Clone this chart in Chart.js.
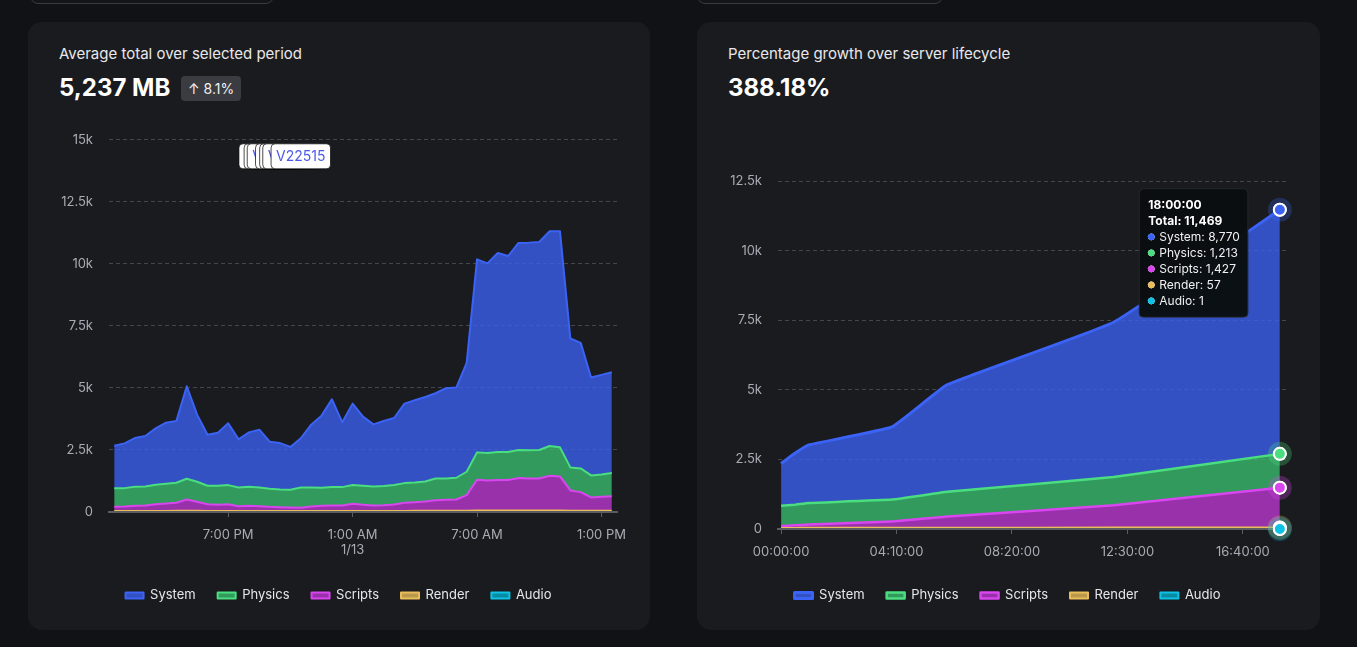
<!DOCTYPE html>
<html>
<head>
<meta charset="utf-8">
<script src="https://cdn.jsdelivr.net/npm/chart.js@4.4.1/dist/chart.umd.min.js"></script>
<style>
  html, body { margin: 0; padding: 0; }
  body { background: #111215; width: 1357px; height: 647px; overflow: hidden; position: relative;
         font-family: Inter, "Noto Sans", sans-serif; }
  .sel { position: absolute; top: -30px; height: 32px; border: 1px solid #3a3b40; border-radius: 8px; background: #141518; }
  .card { position: absolute; top: 22px; height: 608px; background: #1a1b1e; border-radius: 14px; }
  .title { position: absolute; top: 45px; font-size: 15px; line-height: 18px; color: #e8e8ec; white-space: nowrap; }
  .big { position: absolute; top: 73px; font-size: 24px; line-height: 29px; font-weight: 700; color: #fff; white-space: nowrap; }
  .badge { position: absolute; top: 76px; left: 181px; height: 25px; line-height: 25px; padding: 0 7px; box-sizing: border-box;
           background: #3b3c41; border-radius: 4px; color: #f0f0f2; font-size: 14px; white-space: nowrap; }
  canvas.chart { position: absolute; top: 116px; }
</style>
</head>
<body>
<div class="sel" style="left:30px;width:242px"></div>
<div class="sel" style="left:697px;width:244px"></div>

<div class="card" style="left:28px;width:622px"></div>
<div class="card" style="left:697px;width:623px"></div>

<div class="title" style="left:59px">Average total over selected period</div>
<div class="big" style="left:59px">5,237 MB</div>
<div class="badge">↑ 8.1%</div>

<div class="title" style="left:728px">Percentage growth over server lifecycle</div>
<div class="big" style="left:728px">388.18%</div>

<canvas id="leftChart" class="chart" width="574" height="496" style="left:60px"></canvas>
<canvas id="rightChart" class="chart" width="574" height="496" style="left:729px"></canvas>

<script>
// ---- left chart: last 24h, one sample every 30 min
const timeLabels = [
  '1:30 PM', '2:00 PM', '2:30 PM', '3:00 PM', '3:30 PM', '4:00 PM', '4:30 PM', '5:00 PM', '5:30 PM', '6:00 PM',
  '6:30 PM', '7:00 PM', '7:30 PM', '8:00 PM', '8:30 PM', '9:00 PM', '9:30 PM', '10:00 PM', '10:30 PM', '11:00 PM',
  '11:30 PM', '12:00 AM', '12:30 AM', '1:00 AM', '1:30 AM', '2:00 AM', '2:30 AM', '3:00 AM', '3:30 AM', '4:00 AM',
  '4:30 AM', '5:00 AM', '5:30 AM', '6:00 AM', '6:30 AM', '7:00 AM', '7:30 AM', '8:00 AM', '8:30 AM', '9:00 AM',
  '9:30 AM', '10:00 AM', '10:30 AM', '11:00 AM', '11:30 AM', '12:00 PM', '12:30 PM', '1:00 PM', '1:30 PM'
];
const leftSystem = [
  1711, 1804, 1965, 2032, 2275, 2464, 2490, 3729, 2706, 2059,
  2140, 2490, 1939, 2194, 2329, 1899, 1869, 1723, 1979, 2531,
  2908, 3540, 2611, 3284, 2786, 2503, 2625, 2705, 3204, 3311,
  3405, 3432, 3634, 3634, 4388, 7779, 7644, 8022, 7901, 8345,
  8372, 8386, 8654, 8708, 5195, 5061, 3943, 4011, 4065
];
const leftPhysics = [
  754, 740, 767, 768, 781, 794, 808, 834, 808, 741,
  768, 768, 754, 767, 754, 727, 714, 714, 821, 767,
  726, 741, 741, 754, 768, 768, 767, 781, 794, 794,
  808, 875, 862, 875, 942, 1104, 1104, 1130, 1130, 1131,
  1131, 1144, 1198, 1171, 929, 955, 889, 902, 929
];
const leftScripts = [
  165, 179, 205, 218, 271, 298, 324, 456, 364, 271,
  245, 271, 192, 206, 192, 166, 153, 140, 127, 180,
  206, 219, 219, 286, 245, 219, 233, 259, 325, 351,
  378, 431, 444, 457, 629, 1240, 1214, 1227, 1227, 1306,
  1293, 1293, 1400, 1373, 814, 748, 535, 562, 588
];
const leftRender = [
  42, 42, 43, 43, 44, 44, 45, 48, 45, 44,
  43, 44, 42, 42, 42, 41, 41, 40, 40, 41,
  42, 42, 42, 43, 43, 42, 42, 43, 44, 45,
  45, 46, 46, 47, 50, 58, 57, 58, 58, 59,
  59, 59, 60, 60, 53, 52, 49, 49, 50
];
const leftAudio = [
  1, 1, 1, 1, 1, 1, 1, 1, 1, 1,
  1, 1, 1, 1, 1, 1, 1, 1, 1, 1,
  1, 1, 1, 1, 1, 1, 1, 1, 1, 1,
  1, 1, 1, 1, 1, 1, 1, 1, 1, 1,
  1, 1, 1, 1, 1, 1, 1, 1, 1
];
const leftTickTimes = ['7:00 PM', '1:00 AM', '7:00 AM', '1:00 PM'];
const leftTickDates = { '1:00 AM': '1/13' };

// version markers (position along the series, in samples)
const versionAt = [14.9, 15.4, 15.7, 16.5, 16.9, 17.2, 18.0];
const versionNames = ['V22515', 'V22515', 'V22515', 'V22515', 'V22515', 'V22515', 'V22515'];

// ---- right chart: server lifecycle, x in seconds since start
const rightTimes   = [0, 1800, 3600, 14400, 21600, 43200, 64800];
const rightSystem  = [1512, 1845, 2086, 2609, 3847, 5555, 8770.4];
const rightPhysics = [728, 741, 777, 787, 885, 1019, 1213.3];
const rightScripts = [70, 93, 117, 226, 404, 801, 1427.2];
const rightRender  = [38, 39, 40, 42, 46, 50, 57.3];
const rightAudio   = [1, 1, 1, 1, 1, 1, 1];
const rightTicks   = [0, 15000, 30000, 45000, 60000];

const seriesNames = ['System', 'Physics', 'Scripts', 'Render', 'Audio'];
const lineColors = ['#3b63f6', '#4ade80', '#d946ef', '#e9bd5a', '#0cc3e6'];
const fillColors = ['rgba(59,99,246,0.76)', 'rgba(58,190,110,0.78)', 'rgba(190,55,210,0.78)',
                    'rgba(233,189,90,0.78)', 'rgba(8,170,200,0.78)'];

Chart.defaults.font.family = 'Inter, "Noto Sans", sans-serif';
Chart.defaults.color = '#a7acb4';

const gridGrey = '#45464b';
const axisGrey = '#5b5c61';

function kLabel(v) {
  return v === 0 ? '0' : (v / 1000) + 'k';
}
function hms(sec) {
  const h = Math.floor(sec / 3600), m = Math.floor((sec % 3600) / 60), s = Math.round(sec % 60);
  return [h, m, s].map(n => String(n).padStart(2, '0')).join(':');
}
function fmt(n) {
  return Math.round(n).toLocaleString('en-US');
}

function buildDatasets(valueSets, widths, tension) {
  return valueSets.map((vals, i) => ({
    label: seriesNames[i],
    data: vals,
    borderColor: lineColors[i],
    backgroundColor: fillColors[i],
    borderWidth: widths[i],
    fill: i < 4 ? i + 1 : 'origin',   // fill down to the series below in the stack
    order: 4 - i,                      // System sits on top of the stack
    tension: tension,
    clip: false,
    pointRadius: 0,
    pointHoverRadius: 6,
    pointHoverBorderWidth: 2,
    pointHoverBorderColor: '#ffffff',
    pointHoverBackgroundColor: lineColors[i],
    borderJoinStyle: 'round'
  }));
}

const legendOpts = {
  position: 'bottom',
  labels: {
    boxWidth: 18,
    boxHeight: 6,
    padding: 22,
    color: '#e5e7eb',
    font: { size: 13 },
    sort: (a, b) => a.datasetIndex - b.datasetIndex
  }
};

function yAxis(max) {
  return {
    stacked: true,
    min: 0,
    max: max,
    afterFit: s => { s.width = 49; },
    ticks: { stepSize: 2500, padding: 16, font: { size: 13 }, callback: kLabel },
    grid: { color: gridGrey, drawTicks: false },
    border: { display: false, dash: [4, 3] }
  };
}

// white version tags near the top of the left chart
const versionTags = {
  id: 'versionTags',
  afterDraw(chart) {
    const { ctx, chartArea, scales } = chart;
    ctx.save();
    ctx.font = '14px Inter, "Noto Sans", sans-serif';
    ctx.textBaseline = 'middle';
    versionAt.forEach((at, i) => {
      const w = ctx.measureText(versionNames[i]).width + 10;
      const x = scales.x.getPixelForValue(at) - w / 2;
      const y = chartArea.top + 4;
      ctx.beginPath();
      ctx.roundRect(x, y, w, 25, 4);
      ctx.fillStyle = '#ffffff';
      ctx.fill();
      ctx.lineWidth = 1;
      ctx.strokeStyle = 'rgba(0,0,0,0.7)';
      ctx.stroke();
      ctx.fillStyle = '#4e5ae6';
      ctx.fillText(versionNames[i], x + 5, y + 13);
    });
    ctx.restore();
  }
};

new Chart(document.getElementById('leftChart'), {
  type: 'line',
  data: {
    labels: timeLabels,
    datasets: buildDatasets([leftSystem, leftPhysics, leftScripts, leftRender, leftAudio], [2, 2, 2, 2, 2], 0)
  },
  options: {
    responsive: false,
    animation: false,
    events: [],
    layout: { padding: { top: 22, right: 17, bottom: 0, left: 0 } },
    plugins: { legend: legendOpts, tooltip: { enabled: false } },
    scales: {
      x: {
        offset: true,
        afterFit: s => { s.height = 55; },
        ticks: {
          autoSkip: false,
          maxRotation: 0,
          padding: 10,
          font: { size: 13 },
          callback: (v, i) => {
            const t = timeLabels[i];
            if (!leftTickTimes.includes(t)) return '';
            return leftTickDates[t] ? [t, leftTickDates[t]] : t;
          }
        },
        grid: {
          drawOnChartArea: false,
          tickLength: 5,
          color: c => leftTickTimes.includes(timeLabels[c.index]) ? axisGrey : 'rgba(0,0,0,0)'
        },
        border: { display: true, color: axisGrey, width: 2, z: 1 }
      },
      y: yAxis(15000)
    }
  },
  plugins: [versionTags]
});

// pin the tooltip to the left of the hovered sample
const tooltipPlugin = Chart.registry.getPlugin('tooltip');
tooltipPlugin.positioners.pinned = function (items) {
  if (!items.length) return false;
  const x = items[0].element.x;
  const y = Math.min(...items.map(it => it.element.y));
  return { x: x - 36, y: y - 21 };
};

// halo + hovered points, painted after the axis border so they stay on top
const hoverHalo = {
  id: 'hoverHalo',
  afterDraw(chart) {
    const { ctx } = chart;
    const act = chart.getActiveElements();
    ctx.save();
    act.forEach(a => {
      ctx.beginPath();
      ctx.arc(a.element.x, a.element.y, 9.5, 0, Math.PI * 2);
      ctx.lineWidth = 5;
      ctx.strokeStyle = lineColors[a.datasetIndex];
      ctx.globalAlpha = 0.28;
      ctx.stroke();
    });
    ctx.restore();
    act.forEach(a => a.element.draw(ctx));
  }
};

const rightSets = [rightSystem, rightPhysics, rightScripts, rightRender, rightAudio]
  .map(vals => vals.map((v, i) => ({ x: rightTimes[i], y: v })));

const rightChart = new Chart(document.getElementById('rightChart'), {
  type: 'line',
  data: { datasets: buildDatasets(rightSets, [3, 2.5, 2.5, 2, 2], 0.1) },
  options: {
    responsive: false,
    animation: false,
    events: [],
    layout: { padding: { top: 65, right: 17, bottom: 0, left: 0 } },
    plugins: {
      legend: legendOpts,
      tooltip: {
        position: 'pinned',
        xAlign: 'right',
        yAlign: 'top',
        caretSize: 0,
        caretPadding: 0,
        cornerRadius: 4,
        backgroundColor: 'rgba(10,14,16,0.97)',
        borderColor: '#23272b',
        borderWidth: 1,
        padding: { top: 9, bottom: 9, left: 9, right: 8 },
        titleColor: '#ffffff',
        bodyColor: '#f0f0f2',
        titleFont: { size: 12, weight: 'bold' },
        bodyFont: { size: 12 },
        titleSpacing: 1.6,
        titleMarginBottom: 1.6,
        bodySpacing: 1.6,
        usePointStyle: true,
        boxWidth: 6,
        boxHeight: 6,
        boxPadding: 3,
        itemSort: (a, b) => a.datasetIndex - b.datasetIndex,
        callbacks: {
          title: items => {
            const total = items.reduce((s, it) => s + it.raw.y, 0);
            return [hms(items[0].raw.x), 'Total: ' + fmt(total)];
          },
          label: c => c.dataset.label + ': ' + fmt(c.raw.y),
          labelColor: c => ({ borderColor: lineColors[c.datasetIndex], backgroundColor: lineColors[c.datasetIndex] }),
          labelPointStyle: () => ({ pointStyle: 'circle', rotation: 0 })
        }
      }
    },
    scales: {
      x: {
        type: 'linear',
        min: -400,
        max: 65600,
        afterBuildTicks: s => { s.ticks = rightTicks.map(v => ({ value: v })); },
        afterFit: s => { s.height = 38; },
        ticks: { maxRotation: 0, padding: 10, font: { size: 13 }, callback: v => hms(v) },
        grid: { drawOnChartArea: false, tickLength: 5, color: axisGrey },
        border: { display: true, color: axisGrey, width: 2, z: 1 }
      },
      y: yAxis(12500)
    }
  },
  plugins: [hoverHalo]
});

const last = rightTimes.length - 1;
const active = seriesNames.map((_, i) => ({ datasetIndex: i, index: last }));
rightChart.setActiveElements(active);
rightChart.tooltip.setActiveElements(active, { x: 0, y: 0 });
rightChart.update();
</script>
</body>
</html>
